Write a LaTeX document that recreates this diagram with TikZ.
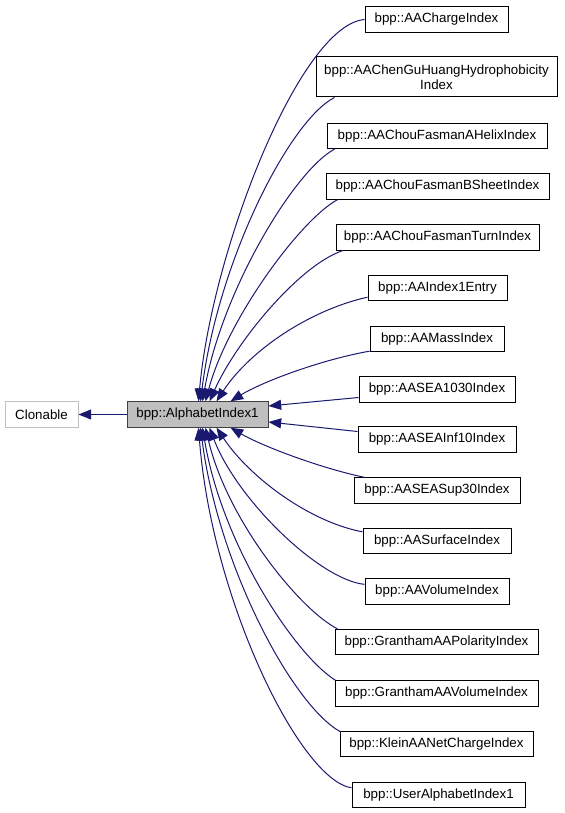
\documentclass[tikz,border=0pt]{standalone}
\usepackage{fontspec}
\setmainfont{Liberation Sans}
\usetikzlibrary{arrows.meta,calc}
\definecolor{edgecol}{HTML}{191970}
\definecolor{greyc}{HTML}{BFBFBF}
\definecolor{darkb}{HTML}{404040}
\tikzset{
  cls/.style={draw=black, line width=0.75pt, fill=white, rectangle, inner sep=0pt,
    minimum height=19pt, font=\fontsize{10pt}{11.5pt}\selectfont, align=center},
  undoc/.style={cls, draw=greyc},
  cur/.style={cls, draw=darkb, fill=greyc},
  edge/.style={draw=edgecol, line width=0.75pt,
    -{Triangle[length=9.5pt,width=7.5pt]}, fill=none}
}
\begin{document}
\begin{tikzpicture}[x=0.75pt,y=-0.75pt]
\useasboundingbox (0,0) rectangle (564,813);
% nodes
\node[undoc, minimum width=54.75pt] (clon) at (41.5,414.5) {Clonable};
\node[cur, minimum width=105.75pt] (p) at (197.5,414.5) {bpp::AlphabetIndex1};
\node[cls, minimum width=107.25pt] (c1) at (436.5,19.5) {bpp::AAChargeIndex};
\node[cls, minimum width=180.75pt, minimum height=30pt] (c2) at (436.5,77) {bpp::AAChenGuHuangHydrophobicity\\Index};
\node[cls, minimum width=165pt] (c3) at (437,136) {bpp::AAChouFasmanAHelixIndex};
\node[cls, minimum width=167.25pt] (c4) at (437.5,186.5) {bpp::AAChouFasmanBSheetIndex};
\node[cls, minimum width=152.25pt] (c5) at (437.5,237.5) {bpp::AAChouFasmanTurnIndex};
\node[cls, minimum width=104.25pt] (c6) at (437.5,288) {bpp::AAIndex1Entry};
\node[cls, minimum width=100.5pt] (c7) at (437,339) {bpp::AAMassIndex};
\node[cls, minimum width=117pt] (c8) at (437,389.5) {bpp::AASEA1030Index};
\node[cls, minimum width=118.5pt] (c9) at (437,439.5) {bpp::AASEAInf10Index};
\node[cls, minimum width=124.5pt] (c10) at (437,490.5) {bpp::AASEASup30Index};
\node[cls, minimum width=111pt] (c11) at (437,541) {bpp::AASurfaceIndex};
\node[cls, minimum width=108pt] (c12) at (437,591.5) {bpp::AAVolumeIndex};
\node[cls, minimum width=152.25pt] (c13) at (436.5,642) {bpp::GranthamAAPolarityIndex};
\node[cls, minimum width=152.25pt] (c14) at (436.5,693.5) {bpp::GranthamAAVolumeIndex};
\node[cls, minimum width=144.75pt] (c15) at (436.5,744) {bpp::KleinAANetChargeIndex};
\node[cls, minimum width=129.75pt] (c16) at (438.5,795) {bpp::UserAlphabetIndex1};
% edges
\draw[edge] (p.west) -- (clon.east);
\draw[edge] (c1.west) .. controls (300,25) and (212,250) .. ($(p.north west)+(72,0)$);
\draw[edge] ($(c2.south west)+(19,0)$) .. controls (290,120) and (218,260) .. ($(p.north west)+(74,0)$);
\draw[edge] ($(c3.south west)+(8,0)$) .. controls (295,170) and (222,290) .. ($(p.north west)+(76,0)$);
\draw[edge] ($(c4.south west)+(12,0)$) .. controls (300,220) and (227,320) .. ($(p.north west)+(79,0)$);
\draw[edge] ($(c5.south west)+(7,0)$) .. controls (300,265) and (237,340) .. ($(p.north west)+(83,0)$);
\draw[edge] ($(c6.south west)+(0,-4)$) .. controls (310,310) and (250,350) .. ($(p.north west)+(90,0)$);
\draw[edge] ($(c7.south west)+(0,-1)$) .. controls (320,360) and (262,382) .. ($(p.north west)+(104,0)$);
\draw[edge] ($(c8.west)+(0,8)$) -- ($(p.east)+(0,-8.5)$);
\draw[edge] ($(c9.west)+(0,-8)$) -- ($(p.east)+(0,7.5)$);
\draw[edge] ($(c10.north west)+(11,0)$) .. controls (320,468) and (262,446) .. ($(p.south west)+(104,0)$);
\draw[edge] ($(c11.north west)+(0,4)$) .. controls (310,522) and (250,478) .. ($(p.south west)+(90,0)$);
\draw[edge] ($(c12.north west)+(0,6)$) .. controls (320,580) and (237,500) .. ($(p.south west)+(83,0)$);
\draw[edge] ($(c13.north west)+(3,0)$) .. controls (300,610) and (227,520) .. ($(p.south west)+(79,0)$);
\draw[edge] ($(c14.north west)+(1,0)$) .. controls (295,655) and (222,545) .. ($(p.south west)+(76,0)$);
\draw[edge] ($(c15.north west)+(1,1)$) .. controls (292,705) and (218,565) .. ($(p.south west)+(74,0)$);
\draw[edge] ($(c16.north west)+(0,6)$) .. controls (300,780) and (212,600) .. ($(p.south west)+(72,0)$);
\end{tikzpicture}
\end{document}
